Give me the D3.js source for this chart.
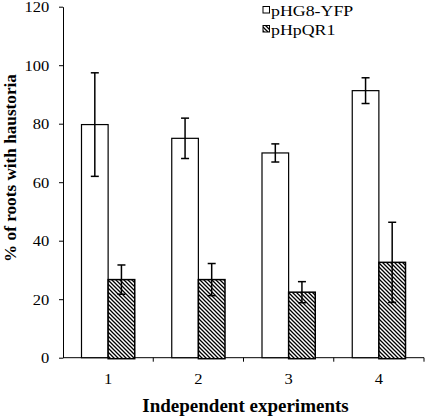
<!DOCTYPE html>
<html><head><meta charset="utf-8">
<script src="https://cdn.jsdelivr.net/npm/d3@7"></script>
<style>body{margin:0;background:#fff}</style>
</head><body>
<script>
const categories = ["1","2","3","4"];
const seriesNames = ["pHG8-YFP","pHpQR1"];
const valuesHG8 = [79.7, 75.0, 70.0, 91.3];
const errHG8 = [17.7, 6.9, 3.1, 4.4];
const valuesQR1 = [26.7, 26.7, 22.4, 32.6];
const errQR1 = [5.0, 5.5, 3.6, 13.7];
const yTicks = [0,20,40,60,80,100,120];

const W=427,H=418;
const svg=d3.select("body").append("svg").attr("width",W).attr("height",H);
const defs=svg.append("defs");
const P=4;
const pat=defs.append("pattern").attr("id","hatch").attr("patternUnits","userSpaceOnUse")
  .attr("width",P).attr("height",P);
pat.append("rect").attr("width",P).attr("height",P).attr("fill","#fff");
pat.append("path").attr("d",`M-1,-1 L${P+1},${P+1} M-1,${P-1} L1,${P+1} M${P-1},-1 L${P+1},1`)
  .attr("stroke","#000").attr("stroke-width",1.3);

const x0=63,x1=424,yTop=6.7,yBot=357.7;
const x=d3.scaleBand().domain(categories).range([x0,x1]).paddingInner(0.41).paddingOuter(0.205);
const xs=d3.scaleBand().domain(seriesNames).range([0,x.bandwidth()]);
const y=d3.scaleLinear().domain([0,120]).range([yBot,yTop]);
const font="Liberation Serif, Times New Roman, serif";
const SX=1.1;

const gy=svg.append("g").attr("transform",`translate(${x0},0)`)
  .call(d3.axisLeft(y).tickValues(yTicks).tickSize(4).tickSizeOuter(0).tickPadding(8.5));
gy.selectAll("text").attr("font-family",font).attr("font-size",15).attr("fill","#000")
  .attr("transform",`scale(${SX},1)`);
gy.selectAll("line,path").attr("stroke","#000").attr("stroke-width",1);

const xb=d3.scaleLinear().domain([0,4]).range([x0,x1]);
const gx=svg.append("g").attr("transform",`translate(0,${yBot})`);
gx.append("line").attr("x1",x0).attr("x2",x1).attr("stroke","#000");
gx.selectAll("line.t").data(d3.range(1,5)).join("line").attr("class","t")
  .attr("x1",d=>xb(d)).attr("x2",d=>xb(d)).attr("y1",0).attr("y2",4).attr("stroke","#000");
gx.selectAll("text").data(categories).join("text")
  .attr("transform",d=>`translate(${x(d)+x.bandwidth()/2},26.5) scale(${SX},1)`).attr("text-anchor","middle")
  .attr("font-family",font).attr("font-size",15).text(d=>d);

const data=categories.map((c,i)=>[
  {c,s:seriesNames[0],v:valuesHG8[i],e:errHG8[i]},
  {c,s:seriesNames[1],v:valuesQR1[i],e:errQR1[i]}]).flat();

svg.selectAll("rect.bar").data(data).join("rect").attr("class","bar")
  .attr("x",d=>x(d.c)+xs(d.s)).attr("width",xs.bandwidth())
  .attr("y",d=>y(d.v)).attr("height",d=>yBot-y(d.v)+(d.s===seriesNames[1]?1:0))
  .attr("fill",d=>d.s===seriesNames[0]?"#fff":"url(#hatch)")
  .attr("stroke","#000").attr("stroke-width",d=>d.s===seriesNames[0]?1.2:1.5);

const eb=svg.selectAll("g.err").data(data).join("g").attr("class","err")
  .attr("transform",d=>`translate(${x(d.c)+xs(d.s)+xs.bandwidth()/2},0)`);
eb.append("line").attr("y1",d=>y(d.v+d.e)).attr("y2",d=>y(d.v-d.e)).attr("stroke","#000").attr("stroke-width",1.5);
eb.append("line").attr("x1",-4).attr("x2",4).attr("y1",d=>y(d.v+d.e)).attr("y2",d=>y(d.v+d.e)).attr("stroke","#000").attr("stroke-width",1.5);
eb.append("line").attr("x1",-4).attr("x2",4).attr("y1",d=>y(d.v-d.e)).attr("y2",d=>y(d.v-d.e)).attr("stroke","#000").attr("stroke-width",1.5);

const lg=svg.append("g");
seriesNames.forEach((s,i)=>{
  const base=16+i*19;
  lg.append("rect").attr("x",263).attr("y",base-9.5).attr("width",6.5).attr("height",6.5)
    .attr("fill",i===0?"#fff":"url(#hatch)").attr("stroke","#000").attr("stroke-width",1);
  lg.append("text").attr("transform",`translate(271,${base}) scale(1.19,1)`)
    .attr("font-family",font).attr("font-size",15).text(s);
});

svg.append("text").attr("x",245.5).attr("y",412).attr("text-anchor","middle")
  .attr("font-family",font).attr("font-weight","bold").attr("font-size",19).text("Independent experiments");
svg.append("text").attr("transform",`translate(16,168) rotate(-90)`).attr("text-anchor","middle")
  .attr("font-family",font).attr("font-weight","bold").attr("font-size",17.2).text("% of roots with haustoria");
</script>
</body></html>
